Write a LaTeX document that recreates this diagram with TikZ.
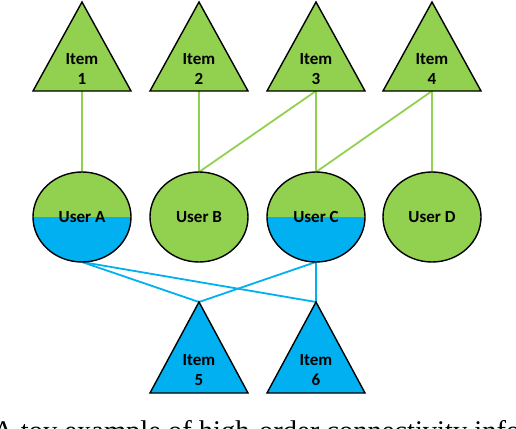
\documentclass[tikz,border=0pt]{standalone}
\usepackage{fontspec}
\setmainfont{Liberation Serif}
\newfontfamily\calib{Carlito}
\definecolor{igreen}{HTML}{92D050}
\definecolor{iblue}{HTML}{00B0F0}
\begin{document}
\begin{tikzpicture}[x=1pt,y=-1pt,
  tri/.style={draw=black,line width=1.4pt,line join=miter},
  lbl/.style={font=\calib\bfseries\fontsize{17}{20}\selectfont,align=center,inner sep=0pt},
  gline/.style={draw=igreen,line width=1.8pt},
  bline/.style={draw=iblue,line width=1.8pt}]
\useasboundingbox (0,0) rectangle (516,428);
\clip (0,0) rectangle (516,428);
% connectors first
\foreach \n/\x in {1/82,2/199,3/316,4/432}{
  \coordinate (it\n base) at (\x,91);
  \coordinate (u\n top) at (\x,172);
  \coordinate (u\n bot) at (\x,262);
}
\coordinate (it5apex) at (199,302);
\coordinate (it6apex) at (316,302);
\draw[gline] (it1base) -- (u1top);
\draw[gline] (it2base) -- (u2top);
\draw[gline] (it3base) -- (u2top);
\draw[gline] (it3base) -- (u3top);
\draw[gline] (it4base) -- (u3top);
\draw[gline] (it4base) -- (u4top);
\draw[bline] (u1bot) -- (it5apex);
\draw[bline] (u1bot) -- (it6apex);
\draw[bline] (u3bot) -- (it5apex);
\draw[bline] (u3bot) -- (it6apex);
% top triangles
\foreach \n/\x in {1/82,2/199,3/316,4/432}{
  \filldraw[tri,fill=igreen] (\x,2) -- (\x+49,91) -- (\x-49,91) -- cycle;
  \node[lbl] (item\n) at (\x,69) {Item\\\n};
}
% bottom triangles
\foreach \n/\x in {5/199,6/316}{
  \filldraw[tri,fill=iblue] (\x,302) -- (\x+49,393) -- (\x-49,393) -- cycle;
  \node[lbl] (item\n) at (\x,370) {Item\\\n};
}
% users
\foreach \n/\x/\t/\half in {1/82/A/1,2/199/B/0,3/316/C/1,4/432/D/0}{
  \fill[igreen] (\x,217) ellipse [x radius=49,y radius=45];
  \ifnum\half=1
    \begin{scope}
      \clip (\x,217) ellipse [x radius=49,y radius=45];
      \fill[iblue] (\x-50,217) rectangle (\x+50,263);
    \end{scope}
  \fi
  \draw[black,line width=1.4pt] (\x,217) ellipse [x radius=49,y radius=45];
  \node[lbl] (user\t) at (\x,217) {User \t};
}
% caption (cut off)
\node[anchor=base west,inner sep=0pt,font=\fontsize{28.5}{34}\selectfont] (caption) at (-7,440) {A toy example of high-order connectivity information};
\end{tikzpicture}
\end{document}
